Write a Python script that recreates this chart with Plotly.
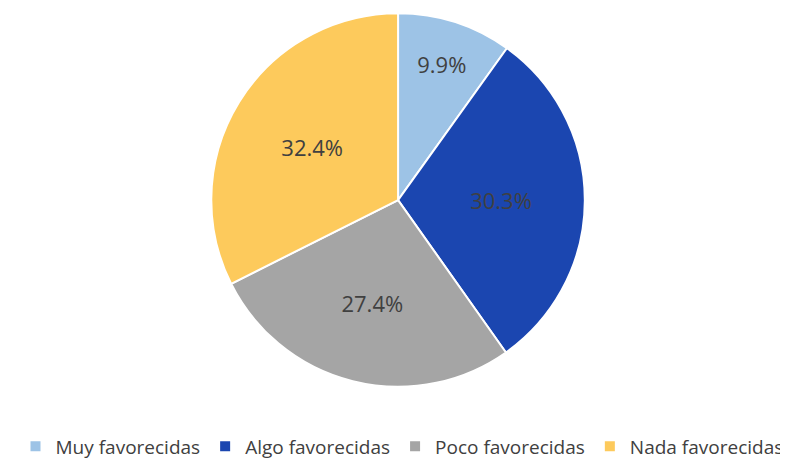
import plotly.graph_objects as go

categories = ["Muy favorecidas", "Algo favorecidas", "Poco favorecidas", "Nada favorecidas"]
values = [9.9, 30.3, 27.4, 32.4]
colors = ["#9DC3E6", "#1B46B0", "#A5A5A5", "#FDCA5C"]

fig = go.Figure(go.Pie(
    labels=categories,
    values=values,
    sort=False,
    direction="clockwise",
    rotation=0,
    marker=dict(colors=colors, line=dict(color="white", width=2)),
    texttemplate="%{value:.1f}%",
    textposition="inside",
    insidetextorientation="horizontal",
    textfont=dict(size=22, color="#404040", family="Open Sans"),
    domain=dict(x=[0.258, 0.732], y=[0.192, 0.989]),
    hoverinfo="label+value",
))

fig.update_layout(
    width=788, height=469,
    margin=dict(l=0, r=0, t=0, b=0),
    paper_bgcolor="white",
    plot_bgcolor="white",
    showlegend=True,
    legend=dict(
        orientation="h",
        x=0.5, xanchor="center",
        y=0.025, yanchor="bottom",
        font=dict(size=19, color="#404040", family="Open Sans"),
        itemwidth=30,
        traceorder="normal",
    ),
    uniformtext=dict(minsize=22, mode="show"),
)

fig.write_html("out.html")
